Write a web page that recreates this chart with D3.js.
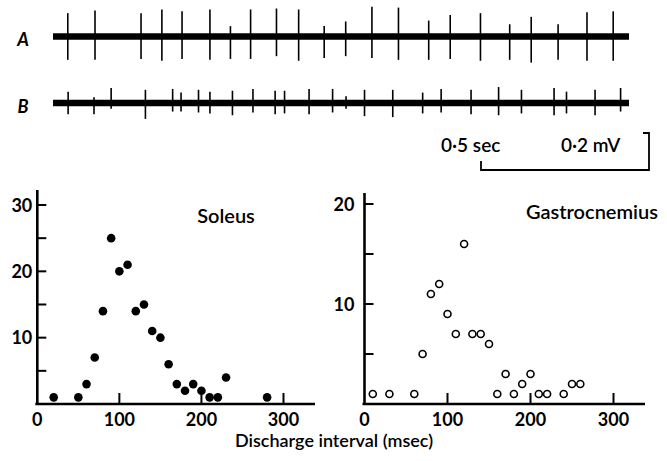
<!DOCTYPE html>
<html><head><meta charset="utf-8">
<script src="https://cdn.jsdelivr.net/npm/d3@7"></script>
<style>
html,body{margin:0;padding:0;background:#fff;}
svg{display:block;}
text{font-family:Lato,"Open Sans",sans-serif;fill:#000;}
</style></head>
<body>
<svg id="chart" width="667" height="461"></svg>
<script>
// ---------- DATA ----------
// Interval histograms: discharge interval (msec) vs number of intervals
const soleusInterval = [20,50,60,70,80,90,100,110,120,130,140,150,160,170,180,190,200,210,220,230,280];
const soleusCount    = [1,1,3,7,14,25,20,21,14,15,11,10,6,3,2,3,2,1,1,4,1];
const gastroInterval = [10,30,60,70,80,90,100,110,120,130,140,150,160,170,180,190,200,210,220,240,250,260];
const gastroCount    = [1,1,1,5,11,12,9,7,16,7,7,6,1,3,1,2,3,1,1,1,2,2];
const xTicks = [0,100,200,300];
const soleusYTicks = [5,10,15,20,25,30];
const soleusYLabels = [10,20,30];
const gastroYTicks = [5,10,15,20];
const gastroYLabels = [10,20];
const panelTitles = ["Soleus","Gastrocnemius"];
const axisTitle = "Discharge interval (msec)";
// Nerve recordings: spike times (sec) and amplitudes up/down (mV)
const traceLabels = ["A","B"];
const spikeTimesA = [0.044,0.125,0.262,0.324,0.384,0.467,0.528,0.588,0.665,0.731,0.807,0.871,0.949,1.028,1.118,1.182,1.272,1.359,1.423,1.503,1.589,1.667];
const spikeUpA    = [0.11,0.125,0.11,0.13,0.12,0.13,0.04,0.13,0.135,0.13,0.04,0.065,0.145,0.14,0.07,0.10,0.11,0.05,0.09,0.05,0.115,0.12];
const spikeDownA  = [0.11,0.11,0.105,0.115,0.105,0.11,0.105,0.105,0.09,0.115,0.10,0.09,0.10,0.11,0.11,0.105,0.115,0.11,0.125,0.11,0.115,0.115];
const spikeTimesB = [0.045,0.122,0.173,0.275,0.356,0.381,0.433,0.467,0.534,0.595,0.661,0.689,0.762,0.832,0.872,0.927,1.011,1.100,1.155,1.244,1.326,1.394,1.491,1.528,1.613,1.689];
const spikeUpB    = [0.045,0.015,0.065,0.055,0.06,0.04,0.055,0.045,0.05,0.06,0.05,0.05,0.06,0.06,0.02,0.055,0.055,0.04,0.06,0.055,0.07,0.055,0.065,0.045,0.055,0.065];
const spikeDownB  = [0.045,0.045,0.015,0.07,0.03,0.03,0.035,0.04,0.05,0.035,0.045,0.04,0.045,0.035,0.015,0.055,0.06,0.04,0.035,0.045,0.05,0.04,0.05,0.04,0.05,0.03];
const traceDuration = 1.714; // sec
const scaleBarTime = 0.5;    // sec
const scaleBarVolt = 0.2;    // mV
const scaleTexts = ["0\u00B75 sec","0\u00B72 mV"];

// ---------- DRAW ----------
const svg = d3.select("#chart");

// Traces
const tx = d3.scaleLinear().domain([0, traceDuration]).range([53, 629]);
const mvPx = d3.scaleLinear().domain([0, scaleBarVolt]).range([0, 37]);
const traces = [
  {label: traceLabels[0], y: 36.5, t: spikeTimesA, up: spikeUpA, down: spikeDownA, ly: 46},
  {label: traceLabels[1], y: 103, t: spikeTimesB, up: spikeUpB, down: spikeDownB, ly: 113}
];
traces.forEach(tr => {
  const g = svg.append("g");
  g.append("text").attr("x", 23).attr("y", tr.ly).attr("text-anchor","middle")
    .style("font-size","18px").style("font-weight","700").style("font-style","italic").text(tr.label);
  g.append("line").attr("x1", tx(0)).attr("x2", tx(traceDuration)).attr("y1", tr.y).attr("y2", tr.y)
    .attr("stroke","#000").attr("stroke-width",6.5);
  g.selectAll("line.spike").data(tr.t).join("line").attr("class","spike")
    .attr("x1", d => tx(d)).attr("x2", d => tx(d))
    .attr("y1", (d,i) => tr.y - 3 - mvPx(tr.up[i]))
    .attr("y2", (d,i) => tr.y + 3 + mvPx(tr.down[i]))
    .attr("stroke","#000").attr("stroke-width",1.6);
});

// Scale bar
const sx = d3.scaleLinear().domain([0, scaleBarTime]).range([481, 649]);
const barY = 170;
svg.append("path")
  .attr("d", `M${sx(0)},${barY-9}V${barY}H${sx(scaleBarTime)}V${barY - mvPx(scaleBarVolt)}h-6`)
  .attr("fill","none").attr("stroke","#000").attr("stroke-width",1.8);
svg.append("text").attr("x", 441).attr("y", 152).style("font-size","19px").style("font-weight","600").text(scaleTexts[0]);
svg.append("text").attr("x", 561).attr("y", 152).style("font-size","19px").style("font-weight","600").text(scaleTexts[1]);

// Panels
function panel(opts) {
  const g = svg.append("g");
  const x = d3.scaleLinear().domain([0,300]).range(opts.xr);
  const y = d3.scaleLinear().domain([0,opts.ymax]).range(opts.yr);
  g.append("line").attr("x1", x(0)).attr("x2", x(0)).attr("y1", y(0)+1).attr("y2", opts.yTop)
    .attr("stroke","#000").attr("stroke-width",2.6);
  g.append("line").attr("x1", x(0)-2).attr("x2", opts.xEnd).attr("y1", y(0)).attr("y2", y(0))
    .attr("stroke","#000").attr("stroke-width",2.6);
  g.selectAll("line.yt").data(opts.yTicks).join("line").attr("class","yt")
    .attr("x1", x(0)).attr("x2", x(0)+9).attr("y1", d => y(d)).attr("y2", d => y(d))
    .attr("stroke","#000").attr("stroke-width",2);
  g.selectAll("text.yl").data(opts.yLabels).join("text").attr("class","yl")
    .attr("x", x(0) - opts.labGap).attr("y", d => y(d) + 6.5).attr("text-anchor","end")
    .style("font-size","18px").style("font-weight","700").text(d => d);
  g.selectAll("line.xt").data(xTicks.filter(d => d > 0)).join("line").attr("class","xt")
    .attr("x1", d => x(d)).attr("x2", d => x(d)).attr("y1", y(0)).attr("y2", y(0)-11)
    .attr("stroke","#000").attr("stroke-width",2);
  g.selectAll("text.xl").data(xTicks).join("text").attr("class","xl")
    .attr("x", d => x(d)).attr("y", y(0)+22).attr("text-anchor","middle")
    .style("font-size","18px").style("font-weight","700").text(d => d);
  g.append("text").attr("x", opts.titleX).attr("y", opts.titleY).attr("text-anchor","middle")
    .style("font-size","20px").style("font-weight","600").text(opts.title);
  const pts = g.selectAll("circle").data(opts.xs).join("circle")
    .attr("cx", d => x(d)).attr("cy", (d,i) => y(opts.ys[i]));
  if (opts.filled) pts.attr("r", 4.3).attr("fill","#000");
  else pts.attr("r", 3.5).attr("fill","#fff").attr("stroke","#000").attr("stroke-width",1.6);
}
panel({xr:[37.3,283.5], yr:[404,205], ymax:30, yTop:190, xEnd:315, yTicks:soleusYTicks, yLabels:soleusYLabels,
  labGap:5, title:panelTitles[0], titleX:226, titleY:223, xs:soleusInterval, ys:soleusCount, filled:true});
panel({xr:[364.5,613.5], yr:[404,204], ymax:20, yTop:193, xEnd:645, yTicks:gastroYTicks, yLabels:gastroYLabels,
  labGap:10, title:panelTitles[1], titleX:592, titleY:219, xs:gastroInterval, ys:gastroCount, filled:false});

svg.append("text").attr("x", 334).attr("y", 447).attr("text-anchor","middle")
  .style("font-size","18px").style("font-weight","600").text(axisTitle);
</script>
</body></html>
